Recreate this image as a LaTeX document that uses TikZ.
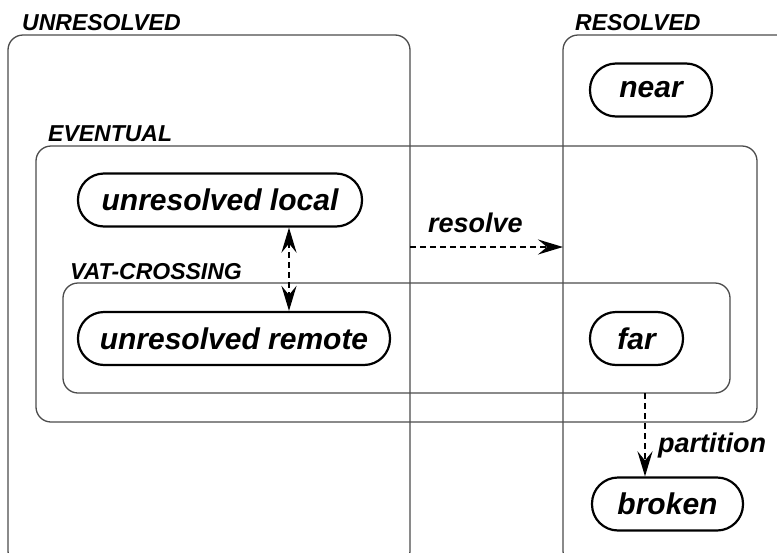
\documentclass[tikz,border=0pt]{standalone}
\usepackage{fontspec}
\setmainfont{Liberation Sans}
\usetikzlibrary{arrows.meta}
\begin{document}
\begin{tikzpicture}[x=1pt,y=-1pt,
  grp/.style={draw=black!70,line width=1.3pt,rounded corners=15pt},
  grplabel/.style={anchor=base west,inner sep=0pt,font=\fontsize{23}{27}\selectfont\bfseries\itshape},
  state/.style={draw=black,line width=2.2pt,rounded corners=26pt,minimum height=53pt,inner sep=0pt,font=\fontsize{30}{36}\selectfont\bfseries\itshape},
  tip/.tip={Stealth[length=25pt,width=15pt,inset=9pt]},
  trans/.style={dashed,dash pattern=on 6pt off 4pt,line width=2.5pt,-tip},
  edgelabel/.style={anchor=base west,inner sep=0pt,font=\fontsize{27}{32}\selectfont\bfseries\itshape}]
\useasboundingbox (0,0) rectangle (777,552);
\begin{scope}
\clip (0,0) rectangle (777,552);
% groups
\draw[grp] (8,35) rectangle (410,566);
\draw[grp] (563,35) rectangle (800,566);
\draw[grp] (36,146) rectangle (757,422);
\draw[grp] (63,283) rectangle (730,393);
\end{scope}
\node[grplabel] (lunres) at (22,30) {UNRESOLVED};
\node[grplabel] (lres) at (575,30) {RESOLVED};
\node[grplabel] (levt) at (48,141) {EVENTUAL};
\node[grplabel] (lvat) at (70,279) {VAT-CROSSING};
% states
\node[state,minimum width=122pt] (near) at (651,90) {near};
\node[state,minimum width=284pt] (ul) at (220,200) {unresolved local};
\node[state,minimum width=312pt] (ur) at (234,338.5) {unresolved remote};
\node[state,minimum width=93pt] (far) at (636.5,338.5) {far};
\node[state,minimum width=151pt] (broken) at (667.5,504) {broken};
% connector anchors
\coordinate (dax) at (289,0);
\coordinate (rs) at (410,247);
\coordinate (re) at (563,247);
\coordinate (ps) at (645,393);
% connectors
\draw[trans,tip-tip] (ul.south -| dax) -- (ur.north -| dax);
\draw[trans] (rs) -- (re);
\draw[trans] (ps) -- (broken.north -| ps);
\node[edgelabel] (lresolve) at (428,232) {resolve};
\node[edgelabel] (lpart) at (658,452) {partition};
\end{tikzpicture}
\end{document}
